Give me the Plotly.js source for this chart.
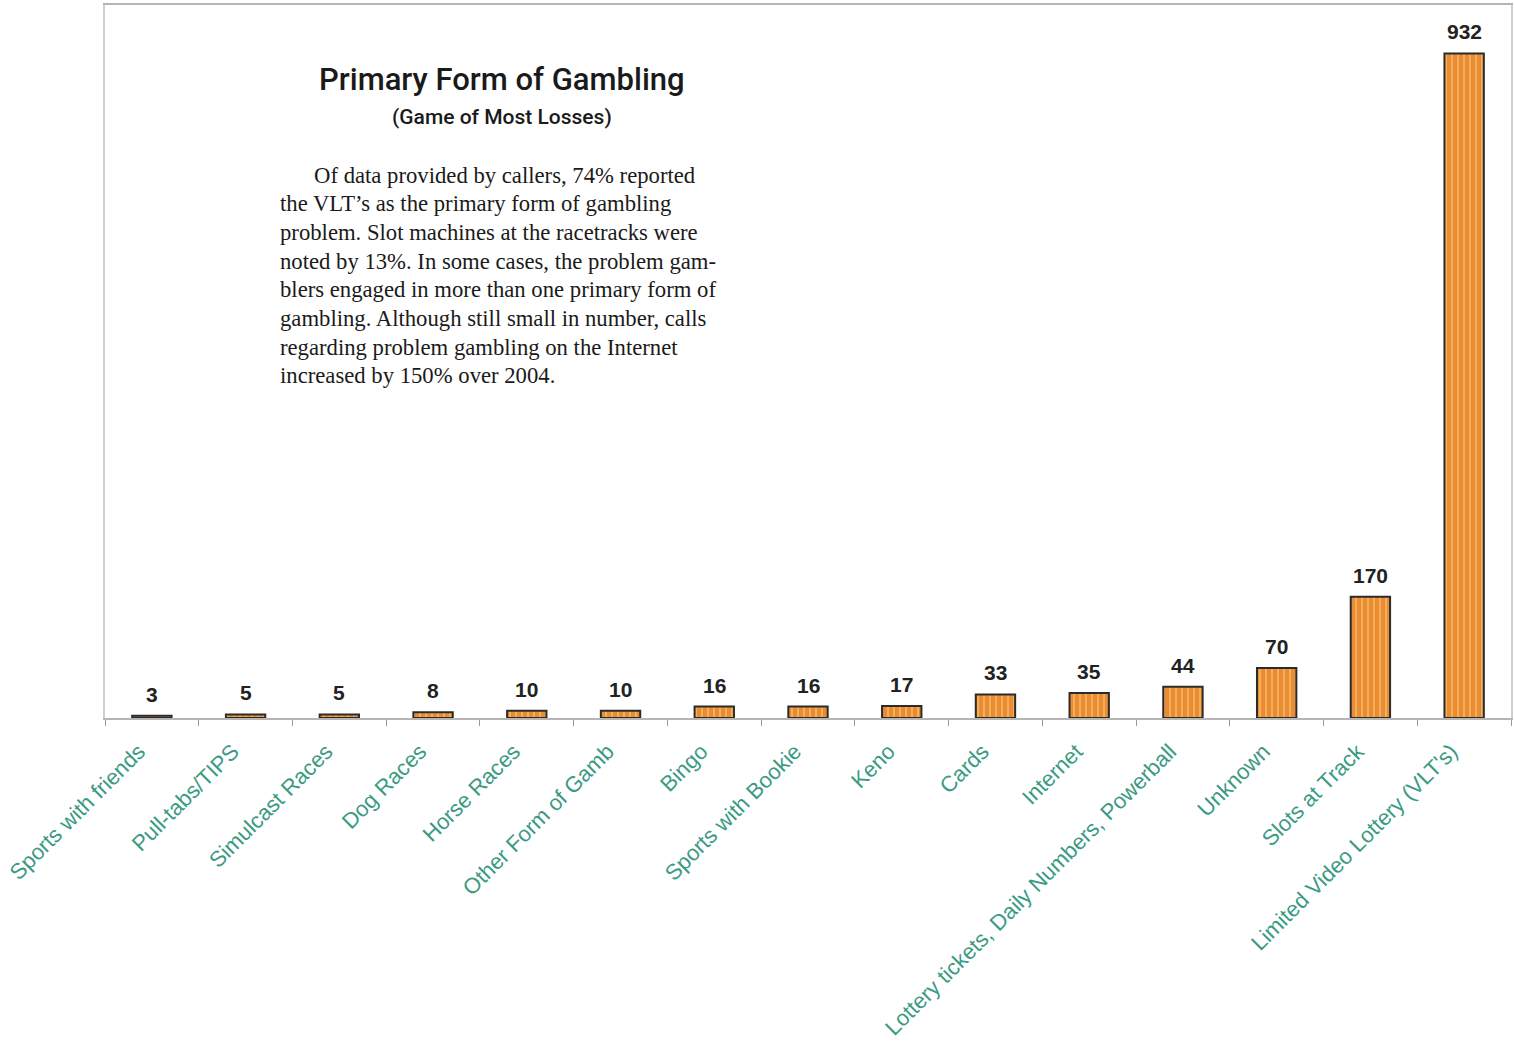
<!DOCTYPE html>
<html>
<head>
<meta charset="utf-8">
<script src="https://cdn.plot.ly/plotly-3.0.1.min.js"></script>
<style>html,body{margin:0;padding:0;background:#fff;}#chart{width:1514px;height:1041px;}</style>
</head>
<body>
<div id="chart"></div>
<script>
const categories = ["Sports with friends","Pull-tabs/TIPS","Simulcast Races","Dog Races","Horse Races","Other Form of Gamb","Bingo","Sports with Bookie","Keno","Cards","Internet","Lottery tickets, Daily Numbers, Powerball","Unknown","Slots at Track","Limited Video Lottery (VLT's)"];
const values = [3,5,5,8,10,10,16,16,17,33,35,44,70,170,932];

const titleText = "Primary Form of Gambling";
const subtitleText = "(Game of Most Losses)";
const bodyLines = [
  "\u00a0\u00a0\u00a0\u00a0\u00a0\u00a0Of data provided by callers, 74% reported",
  "the VLT\u2019s as the primary form of gambling",
  "problem. Slot machines at the racetracks were",
  "noted by 13%. In some cases, the problem gam-",
  "blers engaged in more than one primary form of",
  "gambling. Although still small in number, calls",
  "regarding problem gambling on the Internet",
  "increased by 150% over 2004."
];

const trace = {
  type: "bar",
  x: categories,
  y: values,
  marker: {
    color: "#ec9038",
    line: {color: "#2b2b2b", width: 2},
    pattern: {shape: "|", fgcolor: "#f7b457", bgcolor: "#e98c35", size: 6, solidity: 0.3}
  },
  hoverinfo: "skip"
};

// plot area geometry helpers (pixels -> paper)
const PT = 5, PH = 713;
const py = (ypx) => 1 - (ypx - PT) / PH;

const annotations = [];
categories.forEach((c, i) => {
  annotations.push({
    xref: "x", yref: "y", x: c, y: values[i], yanchor: "bottom", xanchor: "center",
    yshift: 8, text: String(values[i]), showarrow: false,
    font: {family: "Liberation Sans, Arial, sans-serif", size: 21, color: "#222", weight: "bold"}
  });
});
annotations.push({xref: "paper", yref: "paper", x: 0.2824, y: py(80), xanchor: "center", yanchor: "middle",
  text: titleText, showarrow: false,
  font: {family: "Roboto, Liberation Sans, sans-serif", size: 31, color: "#1a1a1a", weight: 500}});
annotations.push({xref: "paper", yref: "paper", x: 0.2824, y: py(117), xanchor: "center", yanchor: "middle",
  text: subtitleText, showarrow: false,
  font: {family: "Roboto, Liberation Sans, sans-serif", size: 21, color: "#1a1a1a", weight: 500}});
bodyLines.forEach((line, i) => {
  annotations.push({xref: "paper", yref: "paper", x: (278 - 105) / 1406, y: py(175 + i * 28.7),
    xanchor: "left", yanchor: "middle", align: "left", text: line, showarrow: false,
    font: {family: "Liberation Serif, Times New Roman, serif", size: 22.7, color: "#1a1a1a"}});
});

const layout = {
  width: 1514, height: 1041,
  margin: {l: 105, r: 3, t: 5, b: 323},
  paper_bgcolor: "#fff", plot_bgcolor: "#fff",
  bargap: 0.58,
  showlegend: false,
  xaxis: {
    type: "category",
    tickangle: -45,
    tickson: "boundaries",
    ticks: "outside", ticklen: 6, tickcolor: "#999",
    ticklabelstandoff: 10,
    ticklabelshift: -13,
    showline: true, linecolor: "#b5b5b5", linewidth: 2, mirror: true,
    tickfont: {family: "Liberation Sans, Arial, sans-serif", size: 22, color: "#3a9a82"},
    showgrid: false
  },
  yaxis: {
    range: [0, 1000],
    showline: true, linecolor: "#cfcfcf", linewidth: 2, mirror: true,
    showticklabels: false, ticks: "", showgrid: false, zeroline: false
  },
  annotations: annotations
};

Plotly.newPlot("chart", [trace], layout, {displayModeBar: false, staticPlot: true});
</script>
</body>
</html>
